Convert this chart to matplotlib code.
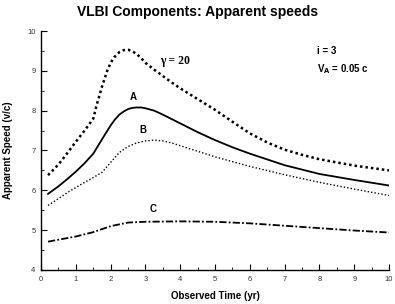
import matplotlib
matplotlib.use("Agg")
import matplotlib.pyplot as plt
from matplotlib.ticker import MultipleLocator

plt.rcParams['font.family'] = ['Liberation Sans', 'DejaVu Sans']

# gamma = 20 curve
x_g = [0.2, 0.5, 0.75, 1.0, 1.25, 1.5, 1.6, 1.75, 1.9, 2.0, 2.1, 2.25, 2.375, 2.5, 2.625, 2.75, 2.875, 3.0, 3.25, 3.5, 3.75, 4.0, 4.5, 5.0, 5.5, 6.0, 6.5, 7.0, 7.5, 8.0, 9.0, 10.0]
y_g = [6.38, 6.65, 6.93, 7.22, 7.5, 7.8, 8.15, 8.6, 9.0, 9.2, 9.34, 9.47, 9.52, 9.53, 9.49, 9.42, 9.32, 9.2, 9.03, 8.87, 8.71, 8.56, 8.29, 8.02, 7.72, 7.43, 7.2, 7.02, 6.89, 6.78, 6.62, 6.5]

# component A
x_a = [0.2, 0.5, 0.75, 1.0, 1.25, 1.5, 1.75, 2.0, 2.125, 2.25, 2.375, 2.5, 2.625, 2.75, 2.875, 3.0, 3.25, 3.5, 4.0, 4.5, 5.0, 5.5, 6.0, 7.0, 8.0, 9.0, 10.0]
y_a = [5.91, 6.1, 6.28, 6.47, 6.68, 6.92, 7.28, 7.63, 7.78, 7.9, 7.98, 8.04, 8.07, 8.08, 8.08, 8.06, 8.0, 7.9, 7.68, 7.46, 7.26, 7.08, 6.92, 6.63, 6.41, 6.26, 6.12]

# component B
x_b = [0.2, 0.5, 0.75, 1.0, 1.25, 1.5, 1.75, 2.0, 2.25, 2.5, 2.75, 3.0, 3.25, 3.5, 3.75, 4.0, 4.5, 5.0, 6.0, 7.0, 8.0, 9.0, 10.0]
y_b = [5.62, 5.79, 5.94, 6.07, 6.2, 6.32, 6.45, 6.7, 6.95, 7.1, 7.19, 7.24, 7.26, 7.24, 7.19, 7.12, 6.98, 6.84, 6.6, 6.39, 6.2, 6.03, 5.87]

# component C
x_c = [0.2, 0.5, 1.0, 1.5, 2.0, 2.5, 3.0, 4.0, 5.0, 6.0, 7.0, 8.0, 9.0, 10.0]
y_c = [4.71, 4.76, 4.84, 4.95, 5.1, 5.19, 5.21, 5.22, 5.21, 5.17, 5.11, 5.05, 4.99, 4.94]

x_ticks = list(range(0, 11))
y_ticks = list(range(4, 11))

fig = plt.figure(figsize=(3.95, 3.04), dpi=100)
ax = fig.add_axes([0.104, 0.112, 0.881, 0.786])

ax.plot(x_g, y_g, color='black', linestyle=(0, (1, 1.2)), linewidth=1.8)
ax.plot(x_a, y_a, color='black', linestyle='-', linewidth=1.3)
ax.plot(x_b, y_b, color='black', linestyle=(0, (1, 1.5)), linewidth=1.0)
ax.plot(x_c, y_c, color='black', linestyle=(0, (4, 1.2, 1, 1.2)), linewidth=1.3)

ax.set_xlim(0, 10)
ax.set_ylim(4, 10)
ax.set_xticks(x_ticks)
ax.set_yticks(y_ticks)
ax.xaxis.set_minor_locator(MultipleLocator(0.5))
ax.yaxis.set_minor_locator(MultipleLocator(0.5))
ax.tick_params(which='major', direction='in', length=4, width=0.8, labelsize=5.5, colors='black', labelcolor='#333333', pad=4)
ax.tick_params(which='minor', direction='in', length=2, width=0.6)
ax.spines['top'].set_visible(False)
ax.spines['right'].set_visible(False)
ax.spines['left'].set_linewidth(1.0)
ax.spines['bottom'].set_linewidth(1.0)

ax.set_xlabel('Observed Time (yr)', fontsize=7, fontweight='bold', labelpad=6)
ax.set_ylabel('Apparent Speed (v/c)', fontsize=7, fontweight='bold', labelpad=10)
fig.suptitle('VLBI Components: Apparent speeds', fontsize=10, fontweight='bold', y=0.985)

ax.text(3.42, 9.25, 'γ = 20', fontsize=8.5, fontweight='bold', va='center', ha='left',
        family=['Liberation Serif', 'DejaVu Serif'])
ax.text(2.64, 8.34, 'A', fontsize=7, fontweight='bold', ha='center', va='center')
ax.text(2.93, 7.51, 'B', fontsize=7, fontweight='bold', ha='center', va='center')
ax.text(3.22, 5.53, 'C', fontsize=7, fontweight='bold', ha='center', va='center')
ax.text(7.93, 9.5, 'i = 3', fontsize=7, fontweight='bold', ha='left', va='center')
ax.text(7.93, 9.05, r'V$_\mathbf{A}$ = 0.05 c', fontsize=7, fontweight='bold', ha='left', va='center')

fig.savefig('out.png', dpi=100)
